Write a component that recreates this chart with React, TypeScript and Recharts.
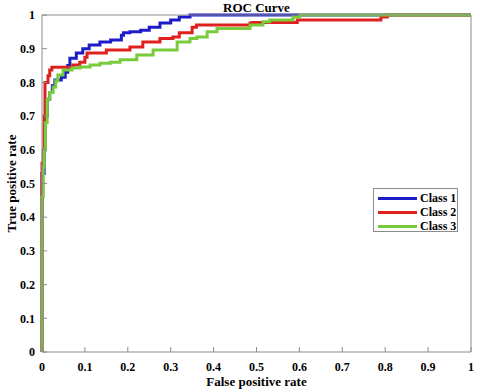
import React from 'react';
import { LineChart, Line, XAxis, YAxis, Legend } from 'recharts';

const FONT = '"Liberation Serif", "Times New Roman", Times, serif';
const AXIS_GREY = '#8c8c8c';

// Tick values shared by both axes
const RATE_TICKS = [0, 0.1, 0.2, 0.3, 0.4, 0.5, 0.6, 0.7, 0.8, 0.9, 1];

const CLASS_NAMES = ['Class 1', 'Class 2', 'Class 3'];
const CLASS_COLORS = ['#1c1cc8', '#e0201e', '#78cc3c'];

// Class 1 (blue) corner points
const class1Fpr = [0, 0, 0.005, 0.008, 0.012, 0.018, 0.024, 0.03, 0.045, 0.054, 0.06, 0.065, 0.08, 0.095, 0.11, 0.135, 0.16, 0.185, 0.19, 0.205, 0.23, 0.25, 0.275, 0.3, 0.32, 0.345, 1];
const class1Tpr = [0, 0.53, 0.6, 0.7, 0.75, 0.77, 0.79, 0.807, 0.815, 0.83, 0.85, 0.872, 0.887, 0.9, 0.911, 0.92, 0.926, 0.94, 0.947, 0.95, 0.955, 0.964, 0.976, 0.985, 0.994, 1, 1];

// Class 2 (red)
const class2Fpr = [0, 0, 0.003, 0.005, 0.007, 0.014, 0.018, 0.023, 0.072, 0.088, 0.1, 0.105, 0.15, 0.205, 0.235, 0.275, 0.305, 0.32, 0.35, 0.36, 0.485, 0.49, 0.595, 0.79, 0.805, 1];
const class2Tpr = [0, 0.56, 0.6, 0.7, 0.8, 0.82, 0.837, 0.845, 0.852, 0.86, 0.875, 0.887, 0.896, 0.905, 0.92, 0.93, 0.935, 0.947, 0.964, 0.97, 0.976, 0.978, 0.985, 0.994, 1, 1];

// Class 3 (green)
const class3Fpr = [0, 0, 0.003, 0.005, 0.008, 0.012, 0.018, 0.026, 0.032, 0.037, 0.049, 0.07, 0.089, 0.112, 0.135, 0.159, 0.182, 0.221, 0.259, 0.315, 0.345, 0.361, 0.385, 0.408, 0.485, 0.515, 0.531, 0.585, 0.601, 1];
const class3Tpr = [0, 0.46, 0.55, 0.6, 0.68, 0.75, 0.77, 0.786, 0.805, 0.822, 0.837, 0.843, 0.846, 0.852, 0.857, 0.86, 0.867, 0.881, 0.896, 0.92, 0.93, 0.935, 0.95, 0.96, 0.97, 0.98, 0.985, 0.994, 1, 1];

const toPoints = (fpr: number[], tpr: number[]) =>
  fpr.map((x, i) => ({ fpr: x, tpr: tpr[i] }));

const SERIES = [
  toPoints(class1Fpr, class1Tpr),
  toPoints(class2Fpr, class2Tpr),
  toPoints(class3Fpr, class3Tpr),
];

const tickStyle = { fill: '#000', fontSize: 12, fontFamily: FONT, fontWeight: 700 };
const titleStyle = { fill: '#000', fontSize: 13, fontFamily: FONT, fontWeight: 700 };

// Legend box in the style of a MATLAB figure
const RocLegend = ({ payload }: any) => (
  <div
    style={{
      width: 85,
      height: 44,
      boxSizing: 'border-box',
      border: `1px solid ${AXIS_GREY}`,
      background: '#fff',
      padding: '2px 0 0 4px',
      fontFamily: FONT,
      fontWeight: 700,
      fontSize: 12,
      lineHeight: '14px',
      color: '#000',
    }}
  >
    {(payload || []).map((entry: any) => (
      <div key={entry.value} style={{ display: 'flex', alignItems: 'center', height: 14 }}>
        <span style={{ display: 'inline-block', width: 39, height: 3, background: entry.color, marginRight: 3 }} />
        <span>{entry.value}</span>
      </div>
    ))}
  </div>
);

export default function App() {
  return (
    <div style={{ position: 'absolute', left: 0, top: 0, width: 480, height: 392, background: '#fff' }}>
      <LineChart width={480} height={392} margin={{ top: 14, right: 8, bottom: 39, left: 41 }}>
        <XAxis
          dataKey="fpr"
          type="number"
          domain={[0, 1]}
          ticks={RATE_TICKS}
          interval={0}
          height={1}
          tickSize={-5}
          tickMargin={15}
          axisLine={{ stroke: AXIS_GREY }}
          tickLine={{ stroke: AXIS_GREY }}
          tick={tickStyle}
          label={{
            content: ({ viewBox }: any) => (
              <text x={viewBox.x + viewBox.width / 2} y={viewBox.y + 34} textAnchor="middle" style={titleStyle}>
                False positive rate
              </text>
            ),
          }}
        />
        <XAxis
          xAxisId="top"
          orientation="top"
          type="number"
          domain={[0, 1]}
          allowDataOverflow
          ticks={RATE_TICKS}
          interval={0}
          height={1}
          tickSize={-5}
          axisLine={{ stroke: AXIS_GREY }}
          tickLine={{ stroke: AXIS_GREY }}
          tick={false}
          label={{
            content: ({ viewBox }: any) => (
              <text x={viewBox.x + viewBox.width / 2} y={viewBox.y - 2} textAnchor="middle" style={titleStyle}>
                ROC Curve
              </text>
            ),
          }}
        />
        <YAxis
          type="number"
          domain={[0, 1]}
          ticks={RATE_TICKS}
          interval={0}
          width={1}
          tickSize={-5}
          tickMargin={12}
          axisLine={{ stroke: AXIS_GREY }}
          tickLine={{ stroke: AXIS_GREY }}
          tick={tickStyle}
          label={{
            content: ({ viewBox }: any) => {
              const cx = viewBox.x - 25;
              const cy = viewBox.y + viewBox.height / 2;
              return (
                <text x={cx} y={cy} textAnchor="middle" transform={`rotate(-90, ${cx}, ${cy})`} style={titleStyle}>
                  True positive rate
                </text>
              );
            },
          }}
        />
        <YAxis
          yAxisId="right"
          orientation="right"
          type="number"
          domain={[0, 1]}
          allowDataOverflow
          ticks={RATE_TICKS}
          interval={0}
          width={1}
          tickSize={-5}
          axisLine={{ stroke: AXIS_GREY }}
          tickLine={{ stroke: AXIS_GREY }}
          tick={false}
        />
        {SERIES.map((points, i) => (
          <Line
            key={CLASS_NAMES[i]}
            data={points}
            dataKey="tpr"
            name={CLASS_NAMES[i]}
            type="stepAfter"
            stroke={CLASS_COLORS[i]}
            strokeWidth={3}
            dot={false}
            activeDot={false}
            isAnimationActive={false}
          />
        ))}
        <Legend
          layout="vertical"
          align="center"
          verticalAlign="middle"
          content={<RocLegend />}
          wrapperStyle={{ left: 373, top: 188, width: 85, height: 44 }}
        />
      </LineChart>
    </div>
  );
}
